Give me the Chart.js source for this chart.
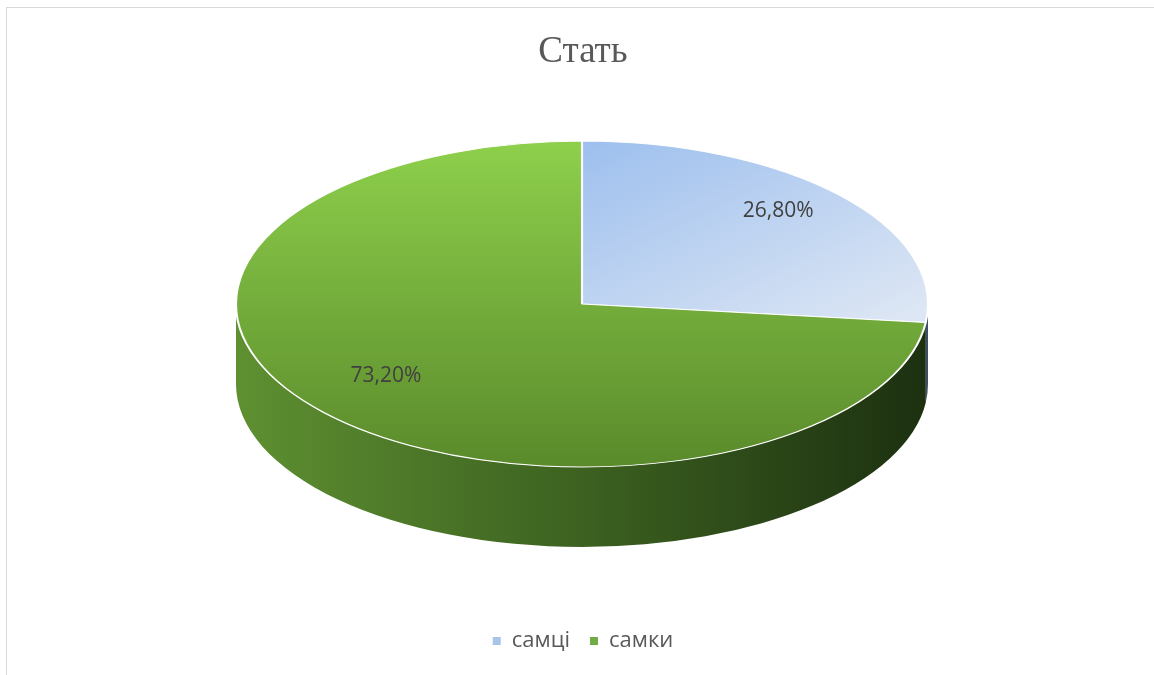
<!DOCTYPE html>
<html>
<head>
<meta charset="utf-8">
<script src="https://cdn.jsdelivr.net/npm/chart.js@4.4.1/dist/chart.umd.min.js"></script>
<style>
  body { margin: 0; background: #fff; }
  #wrap { position: relative; width: 1154px; height: 675px; overflow: hidden; }
  #frame { position: absolute; left: 6px; top: 7px; right: -5px; bottom: -5px;
           border-left: 1px solid #d9d9d9; border-top: 1px solid #d9d9d9; pointer-events: none; }
</style>
</head>
<body>
<div id="wrap">
  <canvas id="myChart" width="1154" height="675"></canvas>
  <div id="frame"></div>
</div>
<script>
// data
const categories = ['самці', 'самки'];
const shares = [26.8, 73.2];
const chartTitle = 'Стать';

// colours
const legendColors = ['#a9c4eb', '#70ad47'];
const topStops = [['#9dbfee', '#dce6f4'], ['#8ed04c', '#5a8a2b']];
const sideStops = [['#7f97b8', '#5d7391', '#3d4f66'], ['#5e9031', '#3c6120', '#1c3010']];

// ellipse on screen (top face) and thickness
const CX = 582, CY = 304, RX = 346, RY = 163, DEPTH = 80;

function fmt(v) {
    return v.toFixed(2).replace('.', ',') + '%';
}

function circleGeom(chart) {
    const a = chart.chartArea;
    return {
        x: (a.left + a.right) / 2,
        y: (a.top + a.bottom) / 2,
        r: Math.min(a.right - a.left, a.bottom - a.top) / 2
    };
}

function topFill(context) {
    const chart = context.chart;
    if (!chart.chartArea) return legendColors[context.dataIndex];
    const g = circleGeom(chart);
    const i = context.dataIndex;
    let grad;
    if (i === 0) {
        grad = chart.ctx.createLinearGradient(g.x, g.y - g.r, g.x + g.r, g.y);
    } else {
        grad = chart.ctx.createLinearGradient(g.x, g.y - g.r, g.x, g.y + g.r);
    }
    grad.addColorStop(0, topStops[i][0]);
    grad.addColorStop(1, topStops[i][1]);
    return grad;
}

// squash the pie into an ellipse and add the side wall
const pieFx = {
    id: 'pieFx',
    beforeDatasetsDraw(chart) {
        const ctx = chart.ctx;
        const arcs = chart.getDatasetMeta(0).data;

        arcs.forEach((arc, i) => {
            const a0 = Math.max(arc.startAngle, 0);
            const a1 = Math.min(arc.endAngle, Math.PI);
            if (a1 <= a0) return;
            const grad = ctx.createLinearGradient(CX - RX, 0, CX + RX, 0);
            grad.addColorStop(0, sideStops[i][0]);
            grad.addColorStop(0.5, sideStops[i][1]);
            grad.addColorStop(1, sideStops[i][2]);
            ctx.save();
            ctx.beginPath();
            ctx.ellipse(CX, CY, RX, RY, 0, a0, a1, false);
            ctx.lineTo(CX + RX * Math.cos(a1), CY + DEPTH + RY * Math.sin(a1));
            ctx.ellipse(CX, CY + DEPTH, RX, RY, 0, a1, a0, true);
            ctx.closePath();
            ctx.fillStyle = grad;
            ctx.fill();
            ctx.restore();
        });

        const a = arcs[0];
        const r = a.outerRadius;
        ctx.save();
        ctx.translate(CX, CY);
        ctx.scale(RX / r, RY / r);
        ctx.translate(-a.x, -a.y);
    },
    afterDatasetsDraw(chart) {
        const ctx = chart.ctx;
        ctx.restore();

        // value labels
        const arcs = chart.getDatasetMeta(0).data;
        ctx.save();
        ctx.font = '21px "Open Sans", "Noto Sans", sans-serif';
        ctx.fillStyle = '#404040';
        ctx.textAlign = 'center';
        ctx.textBaseline = 'middle';
        arcs.forEach((arc, i) => {
            const mid = (arc.startAngle + arc.endAngle) / 2;
            const x = CX + RX * 0.76 * Math.cos(mid);
            const y = CY - 10 + RY * 0.76 * Math.sin(mid);
            ctx.fillText(fmt(shares[i]), x, y);
        });
        ctx.restore();
    }
};

const ctx = document.getElementById('myChart').getContext('2d');

const myChart = new Chart(ctx, {
    type: 'pie',
    data: {
        labels: categories,
        datasets: [{
            data: shares,
            backgroundColor: topFill,
            borderColor: '#ffffff',
            borderWidth: 1.6
        }]
    },
    options: {
        responsive: false,
        animation: false,
        events: [],
        layout: {
            padding: { top: 0, bottom: 13, left: 12, right: 0 }
        },
        plugins: {
            title: {
                display: true,
                text: chartTitle,
                color: '#595959',
                font: { family: '"Liberation Serif", "Times New Roman", serif', size: 37, weight: 'normal' },
                padding: { top: 30, bottom: 10 }
            },
            legend: {
                display: true,
                position: 'bottom',
                labels: {
                    color: '#595959',
                    font: { family: '"Open Sans", "Noto Sans", sans-serif', size: 22 },
                    boxWidth: 8,
                    boxHeight: 8,
                    padding: 20,
                    generateLabels: function(chart) {
                        return categories.map((c, i) => ({
                            text: c,
                            fillStyle: legendColors[i],
                            strokeStyle: legendColors[i],
                            lineWidth: 0,
                            fontColor: '#595959',
                            hidden: false,
                            index: i
                        }));
                    }
                }
            },
            tooltip: { enabled: false }
        }
    },
    plugins: [pieFx]
});
</script>
</body>
</html>
